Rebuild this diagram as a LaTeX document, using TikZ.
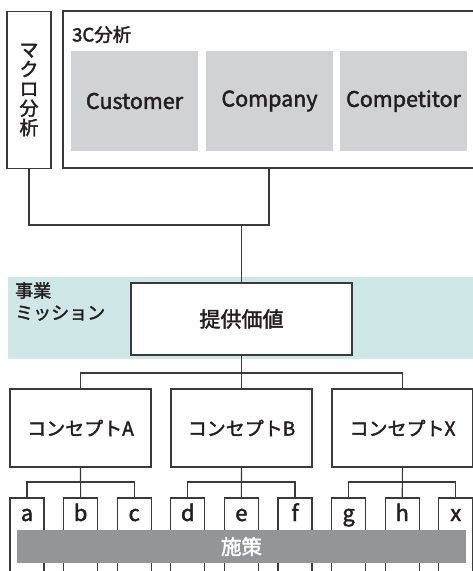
\documentclass[tikz,border=0pt]{standalone}
\usepackage{fontspec}
\setmainfont{Noto Sans CJK JP}[FakeBold=2]
\definecolor{linec}{HTML}{3A3A3A}
\definecolor{grayc}{HTML}{D1D2D4}
\definecolor{tealc}{HTML}{CFE7E6}
\definecolor{barc}{HTML}{939598}
\definecolor{textc}{HTML}{231F20}
\newcommand{\fsz}[1]{\fontsize{#1}{#1}\selectfont}
\begin{document}
\begin{tikzpicture}[x=1pt,y=-1pt,
  ln/.style={draw=linec, line width=1.1pt},
  box/.style={draw=linec, line width=1.1pt, fill=white, inner sep=0pt, outer sep=0pt, text=textc},
  gbox/.style={fill=grayc, inner sep=0pt, outer sep=0pt, minimum width=127pt, minimum height=100pt, font=\fsz{21.5}, text=textc, anchor=north west},
  cbox/.style={box, minimum width=141pt, minimum height=78pt, font=\fsz{19}},
  leafbox/.style={box, minimum width=34pt, minimum height=92pt, anchor=north},
  lettr/.style={anchor=base, inner sep=0pt, font=\fsz{22}, text=textc, yshift=-23pt},
  lbl/.style={inner sep=0pt, text=textc}]
\clip (0,0) rectangle (473,571);
\useasboundingbox (0,0) rectangle (473,571);
% top row
\node[box, minimum width=44pt, minimum height=157pt, align=center, font=\fontsize{19}{19.5}\selectfont] (macro) at (29,90) {マ\\ク\\ロ\\分\\析};
\node[box, minimum width=440pt, minimum height=157pt, anchor=north west] (c3) at (63,11) {};
\node[lbl, anchor=west, font=\fsz{18.5}] (t3c) at (72,34.5) {3C分析};
\node[gbox] (cust) at (71,51) {Customer};
\node[gbox] (comp) at (206,51) {Company};
\node[gbox] (compt) at (340,51) {Competitor};
% band
\node[fill=tealc, inner sep=0pt, minimum width=480pt, minimum height=82pt, anchor=north west] (band) at (8,277) {};
\node[lbl, anchor=north west, align=left, font=\fontsize{18}{22}\selectfont] (mission) at (15,282) {事業\\ミッション};
\node[box, minimum width=221pt, minimum height=72pt, font=\fsz{21}] (teikyo) at (241.5,319) {提供価値};
% connectors top
\coordinate (jl) at (29,225);
\coordinate (jr) at (269,225);
\draw[ln] (macro.south) -- (jl) -- (jr) -- (jr |- c3.south);
\draw[ln] (teikyo.north) -- (teikyo.north |- jl);
% concepts
\node[cbox] (cA) at (80.5,428) {コンセプトA};
\node[cbox] (cB) at (241.5,428) {コンセプトB};
\node[cbox] (cX) at (402.5,428) {コンセプトX};
\draw[ln] (teikyo.south) -- (cB.north);
\draw[ln] (cA.north) -- ++(0,-16) -| (cX.north);
% leaves
\foreach \n [count=\i from 0] in {la,lb,lc,ld,le,lf,lg,lh,lx}{
  \node[leafbox] (\n) at ({27+53.6*\i},498) {};
}
\draw[ln] (cA.south) -- (lb.north);
\draw[ln] (la.north) -- ++(0,-16) -| (lc.north);
\draw[ln] (cB.south) -- (le.north);
\draw[ln] (ld.north) -- ++(0,-16) -| (lf.north);
\draw[ln] (cX.south) -- (lh.north);
\draw[ln] (lg.north) -- ++(0,-16) -| (lx.north);
% bar
\node[fill=barc, inner sep=0pt, minimum width=449pt, minimum height=33pt, text=white, font=\fsz{20.5}] (bar) at (241.5,546.5) {施策};
\foreach \n/\t in {la/a,lb/b,lc/c,ld/d,le/e,lf/f,lg/g,lh/h,lx/x}{
  \node[lettr] (t\n) at (\n.north) {\t};
}
\end{tikzpicture}
\end{document}
